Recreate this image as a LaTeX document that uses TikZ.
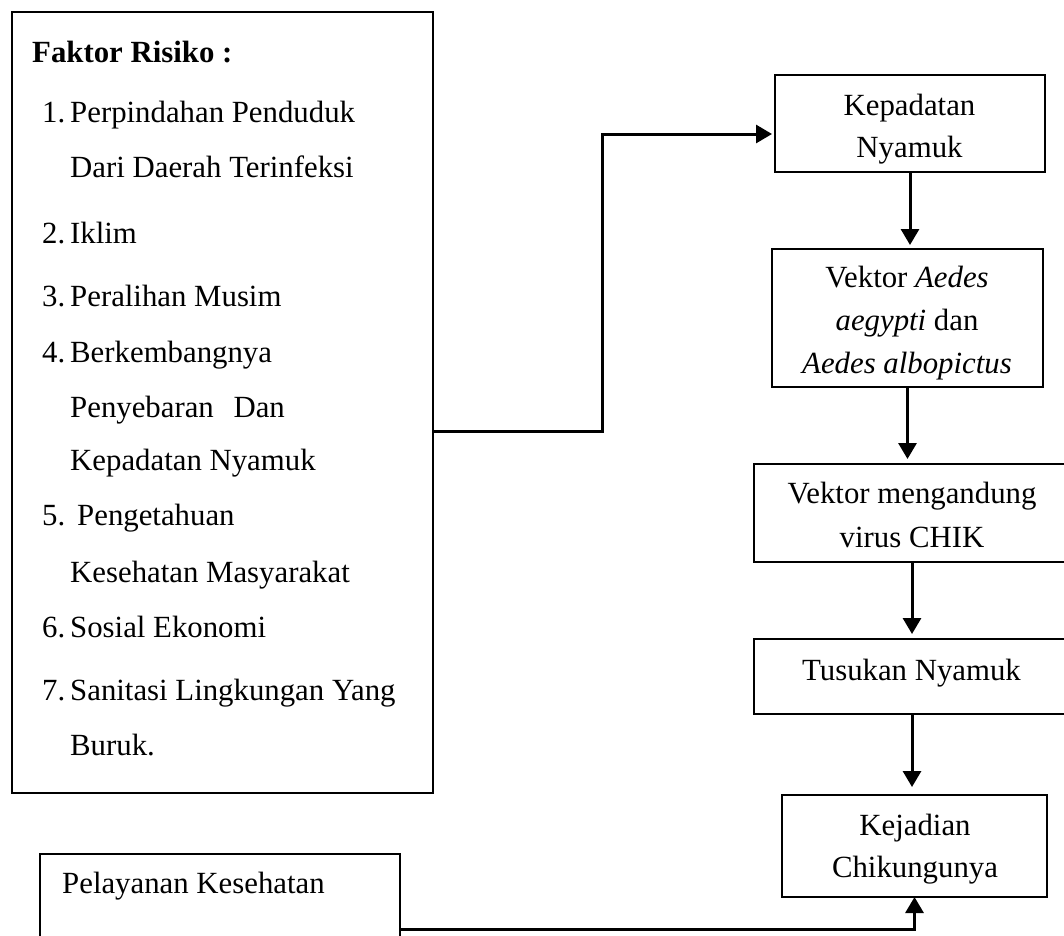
\documentclass[tikz,border=0pt]{standalone}
\usepackage{fontspec}
\setmainfont{Liberation Serif}
\usetikzlibrary{arrows.meta}
\begin{document}
\begin{tikzpicture}[x=1pt,y=-1pt,
  box/.style={draw, line width=2.2pt, rectangle, inner sep=0pt, outer sep=0pt, anchor=north west},
  txt/.style={inner sep=0pt, font=\fontsize{30.8}{43}\selectfont},
  lt/.style={txt, anchor=base west},
  ct/.style={txt, anchor=base},
  conn/.style={line width=3pt, -{Triangle[length=16pt,width=18pt]}},
]
\clip (0,0) rectangle (1064,935);
% boxes
\node[box, minimum width=421pt, minimum height=781pt] (fbox) at (12,12) {};
\node[box, minimum width=270pt, minimum height=97pt] (kep) at (775,75) {};
\node[box, minimum width=271pt, minimum height=138pt] (aed) at (772,249) {};
\node[box, minimum width=316pt, minimum height=98pt] (vmc) at (754,464) {};
\node[box, minimum width=316pt, minimum height=75pt] (tus) at (754,639) {};
\node[box, minimum width=265pt, minimum height=102pt] (kej) at (782,795) {};
\node[box, minimum width=360pt, minimum height=116pt] (pel) at (40,854) {};
% left box text
\node[lt, font=\fontsize{30.8}{43}\selectfont\bfseries] (t0) at (32,62) {Faktor Risiko :};
\node[lt] (n1) at (42,122) {1.};
\node[lt] (t1) at (70,122) {Perpindahan Penduduk};
\node[lt] (t1b) at (70,177) {Dari Daerah Terinfeksi};
\node[lt] (n2) at (42,243) {2.};
\node[lt] (t2) at (70,243) {Iklim};
\node[lt] (n3) at (42,306) {3.};
\node[lt] (t3) at (70,306) {Peralihan Musim};
\node[lt] (n4) at (42,362) {4.};
\node[lt] (t4) at (70,362) {Berkembangnya};
\node[lt] (t4b) at (70,417) {Penyebaran\hspace{12pt} Dan};
\node[lt] (t4c) at (70,470) {Kepadatan Nyamuk};
\node[lt] (n5) at (42,525) {5.};
\node[lt] (t5) at (77,525) {Pengetahuan};
\node[lt] (t5b) at (70,582) {Kesehatan Masyarakat};
\node[lt] (n6) at (42,637) {6.};
\node[lt] (t6) at (70,637) {Sosial Ekonomi};
\node[lt] (n7) at (42,700) {7.};
\node[lt] (t7) at (70,700) {Sanitasi Lingkungan Yang};
\node[lt] (t7b) at (70,755) {Buruk.};
% right texts
\node[ct] (k1) at (909.5,115) {Kepadatan};
\node[ct] (k2) at (909.5,157) {Nyamuk};
\node[ct] (a1) at (907,287) {Vektor \textit{Aedes}};
\node[ct] (a2) at (907,330) {\textit{aegypti} dan};
\node[ct] (a3) at (907,373) {\textit{Aedes albopictus}};
\node[ct] (v1) at (912,503) {Vektor mengandung};
\node[ct] (v2) at (912,547) {virus CHIK};
\node[ct] (u1) at (911.5,680) {Tusukan Nyamuk};
\node[ct] (e1) at (915,835) {Kejadian};
\node[ct] (e2) at (915,877) {Chikungunya};
\node[lt] (p1) at (62,893) {Pelayanan Kesehatan};
% connectors
\coordinate (j1) at (602,431);
\coordinate (j2) at (602,134);
\draw[conn, shorten >=3pt] (fbox.east |- j1) -- (j1) -- (j2) -- (kep.west |- j2);
\draw[conn, shorten >=4pt] (kep.south) -- (kep.south |- aed.north);
\draw[conn, shorten >=5pt] (aed.south) -- (aed.south |- vmc.north);
\draw[conn, shorten >=5pt] (vmc.south) -- (vmc.south |- tus.north);
\draw[conn, shorten >=8pt] (tus.south) -- (tus.south |- kej.north);
\coordinate (j3) at (915,929);
\draw[conn] (pel.east |- j3) -| (kej.south);
\end{tikzpicture}
\end{document}
